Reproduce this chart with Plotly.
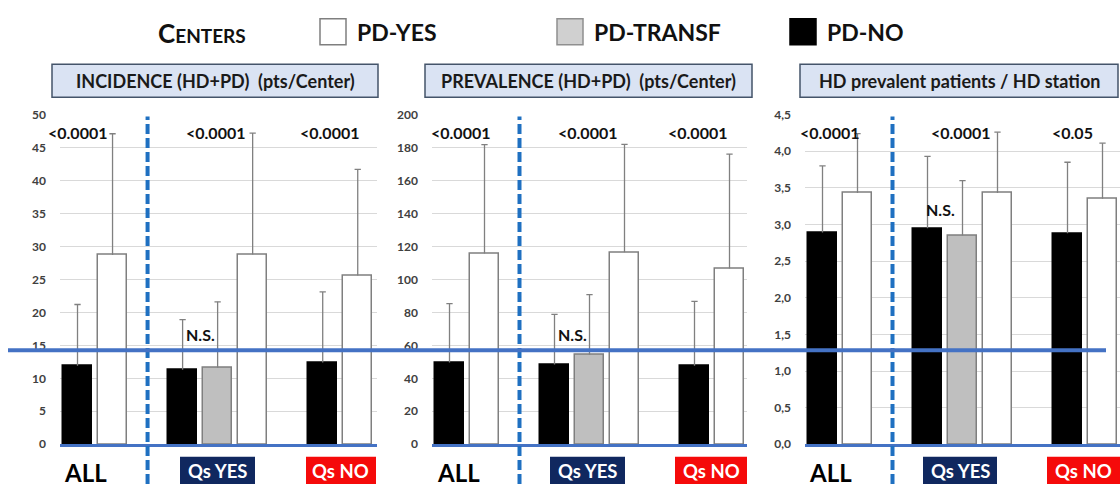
import plotly.graph_objects as go

W, H = 1120, 491

# ---------------- data ----------------
groups = ["ALL", "Qs YES", "Qs NO"]
series_names = ["PD-NO", "PD-TRANSF", "PD-YES"]

# Panel 1: incidence (HD+PD) pts/center
inc_no = [11.9, 11.3, 12.4]
inc_no_sd = [9.3, 7.6, 10.7]
inc_tr = [None, 11.6, None]
inc_tr_sd = [None, 10.0, None]
inc_yes = [28.7, 28.8, 25.6]
inc_yes_sd = [18.4, 18.4, 16.1]

# Panel 2: prevalence (HD+PD) pts/center
prev_no = [49.6, 48.4, 47.6]
prev_no_sd = [35.7, 30.4, 39.1]
prev_tr = [None, 54.3, None]
prev_tr_sd = [None, 36.5, None]
prev_yes = [115.7, 116.5, 106.7]
prev_yes_sd = [66.1, 65.5, 69.4]

# Panel 3: HD prevalent patients / HD station
hd_no = [2.89, 2.95, 2.88]
hd_no_sd = [0.91, 0.98, 0.97]
hd_tr = [None, 2.85, None]
hd_tr_sd = [None, 0.75, None]
hd_yes = [3.43, 3.43, 3.35]
hd_yes_sd = [0.81, 0.83, 0.76]

p_inc = ["<0.0001", "<0.0001", "<0.0001"]
p_prev = ["<0.0001", "<0.0001", "<0.0001"]
p_hd = ["<0.0001", "<0.0001", "<0.05"]
ns_label = "N.S."

panel_titles = ["INCIDENCE (HD+PD)  (pts/Center)",
                "PREVALENCE (HD+PD)  (pts/Center)",
                "HD prevalent patients / HD station"]
y_ticks = [[0, 5, 10, 15, 20, 25, 30, 35, 40, 45, 50],
           [0, 20, 40, 60, 80, 100, 120, 140, 160, 180, 200],
           [0, 0.5, 1, 1.5, 2, 2.5, 3, 3.5, 4, 4.5]]

panels = [
    dict(no=inc_no, no_sd=inc_no_sd, tr=inc_tr, tr_sd=inc_tr_sd, yes=inc_yes, yes_sd=inc_yes_sd, p=p_inc),
    dict(no=prev_no, no_sd=prev_no_sd, tr=prev_tr, tr_sd=prev_tr_sd, yes=prev_yes, yes_sd=prev_yes_sd, p=p_prev),
    dict(no=hd_no, no_sd=hd_no_sd, tr=hd_tr, tr_sd=hd_tr_sd, yes=hd_yes, yes_sd=hd_yes_sd, p=p_hd),
]

# ---------------- layout helpers ----------------
def px_x(p):
    return p / W

def px_y(p):
    return (H - p) / H

group_start = [0, 3, 7]
x_domains = [(60, 377), (432, 747), (805, 1120)]
x_ranges = [(-0.5, 8.55), (-0.5, 8.5), (-0.5, 8.5)]
y_dom = [px_y(450), px_y(110)]
BAR_W = 0.83
CAP = 0.09

styles = {
    "PD-NO": dict(fill="#000000", line="#000000"),
    "PD-TRANSF": dict(fill="#bfbfbf", line="#7f7f7f"),
    "PD-YES": dict(fill="#ffffff", line="#7f7f7f"),
}

fig = go.Figure()
FONT = "Lato"

for pi, pd_ in enumerate(panels):
    ax = "" if pi == 0 else str(pi + 1)
    series_vals = {"PD-NO": (pd_["no"], pd_["no_sd"]),
                   "PD-TRANSF": (pd_["tr"], pd_["tr_sd"]),
                   "PD-YES": (pd_["yes"], pd_["yes_sd"])}
    slots = {s: [None] * 3 for s in series_names}
    for gi in range(3):
        k = 0
        for s in series_names:
            if series_vals[s][0][gi] is not None:
                slots[s][gi] = group_start[gi] + k
                k += 1
    for s in series_names:
        vals, sds = series_vals[s]
        idx = [g for g in range(3) if vals[g] is not None]
        xs = [slots[s][g] for g in idx]
        ys = [vals[g] for g in idx]
        fig.add_trace(go.Bar(
            x=xs, y=ys, name=s, width=BAR_W,
            marker=dict(color=styles[s]["fill"], line=dict(color=styles[s]["line"], width=1.5)),
            xaxis="x" + ax, yaxis="y" + ax, showlegend=False,
        ))
    # upward error whiskers (mean -> mean + SD, with small cap)
    ex, ey = [], []
    for s in series_names:
        vals, sds = series_vals[s]
        for g in range(3):
            if vals[g] is None:
                continue
            xc = slots[s][g]
            top = vals[g] + sds[g]
            ex += [xc, xc, None, xc - CAP, xc + CAP, None]
            ey += [vals[g], top, None, top, top, None]
    fig.add_trace(go.Scatter(x=ex, y=ey, mode="lines", line=dict(color="#808080", width=1.3),
                             xaxis="x" + ax, yaxis="y" + ax, showlegend=False, hoverinfo="skip"))

    d0, d1 = x_domains[pi]
    fig.layout["xaxis" + ax] = dict(
        domain=[px_x(d0), px_x(d1)], range=list(x_ranges[pi]), anchor="y" + ax,
        showticklabels=False, showgrid=False, zeroline=False,
        showline=True, linecolor="#4472c4", linewidth=2.5, fixedrange=True,
    )
    yt = y_ticks[pi]
    yaxis = dict(
        domain=y_dom, range=[0, yt[-1]], anchor="x" + ax, tickvals=yt,
        showgrid=True, gridcolor="#d9d9d9", gridwidth=1, zeroline=False,
        showline=False, ticks="", ticklabelstandoff=13,
        tickfont=dict(family=FONT, size=12, color="#404040", weight="bold"),
        fixedrange=True,
    )
    if pi == 2:
        yaxis["tickformat"] = ".1f"
    fig.layout["yaxis" + ax] = yaxis

# ---------------- shapes & annotations ----------------
shapes = []
ann = []

for pi in range(3):
    ax = "x" if pi == 0 else "x" + str(pi + 1)
    shapes.append(dict(type="line", xref=ax, yref="paper", x0=2, x1=2,
                       y0=px_y(491), y1=px_y(112),
                       line=dict(color="#1f70c1", width=4, dash="10px,4px"), layer="above"))

shapes.append(dict(type="line", xref="paper", yref="paper", x0=px_x(8), x1=px_x(1106),
                   y0=px_y(353), y1=px_y(353), line=dict(color="#4472c4", width=4), layer="above"))

title_boxes = [(52, 378), (425, 752), (800, 1118)]
for (bx0, bx1), t in zip(title_boxes, panel_titles):
    shapes.append(dict(type="rect", xref="paper", yref="paper", x0=px_x(bx0), x1=px_x(bx1),
                       y0=px_y(92), y1=px_y(58), fillcolor="#dae3f3",
                       line=dict(color="#44546a", width=1.5)))
    ann.append(dict(xref="paper", yref="paper", x=px_x((bx0 + bx1) / 2), y=px_y(75),
                    text=t, showarrow=False, xanchor="center", yanchor="middle",
                    font=dict(family=FONT, size=18, color="#1a1a1a", weight="bold")))

p_x = [[0.0, 3.93, 7.2], [0.31, 3.94, 7.09], [0.21, 3.93, 7.13]]
ns_pos = [(3.5, 337), (3.51, 337), (3.36, 208)]
for pi, pd_ in enumerate(panels):
    ax = "x" if pi == 0 else "x" + str(pi + 1)
    for gi in range(3):
        ann.append(dict(xref=ax, yref="paper", x=p_x[pi][gi], y=px_y(128), text=pd_["p"][gi],
                        showarrow=False, xanchor="center", yanchor="middle",
                        font=dict(family=FONT, size=16, color="#111111", weight="bold")))
    ann.append(dict(xref=ax, yref="paper", x=ns_pos[pi][0], y=px_y(ns_pos[pi][1]), text=ns_label,
                    showarrow=False, xanchor="center", yanchor="middle",
                    font=dict(family=FONT, size=16, color="#111111", weight="bold")))

all_x = [62, 435, 807]
navy_boxes = [(180, 255), (550, 625), (923, 997)]
red_boxes = [(306, 376), (675, 747), (1047, 1120)]
for pi in range(3):
    ann.append(dict(xref="paper", yref="paper", x=px_x(all_x[pi]), y=px_y(479), text=groups[0],
                    showarrow=False, xanchor="left", yanchor="middle",
                    font=dict(family=FONT, size=24, color="#000000", weight="bold")))
    nx0, nx1 = navy_boxes[pi]
    shapes.append(dict(type="rect", xref="paper", yref="paper", x0=px_x(nx0), x1=px_x(nx1),
                       y0=px_y(491), y1=px_y(463), fillcolor="#10285f", line=dict(width=0)))
    ann.append(dict(xref="paper", yref="paper", x=px_x((nx0 + nx1) / 2), y=px_y(478), text=groups[1],
                    showarrow=False, xanchor="center", yanchor="middle",
                    font=dict(family=FONT, size=18.5, color="#ffffff", weight="bold")))
    rx0, rx1 = red_boxes[pi]
    shapes.append(dict(type="rect", xref="paper", yref="paper", x0=px_x(rx0), x1=px_x(rx1),
                       y0=px_y(491), y1=px_y(463), fillcolor="#f50a0a", line=dict(width=0)))
    ann.append(dict(xref="paper", yref="paper", x=px_x((rx0 + rx1) / 2), y=px_y(478), text=groups[2],
                    showarrow=False, xanchor="center", yanchor="middle",
                    font=dict(family=FONT, size=18.5, color="#ffffff", weight="bold")))

ann.append(dict(xref="paper", yref="paper", x=px_x(156), y=px_y(26),
                text="C<span style='font-size:19px'>ENTERS</span>",
                showarrow=False, xanchor="left", yanchor="middle",
                font=dict(family=FONT, size=26, color="#111111", weight="bold")))
legend_items = [("PD-YES", 320, "#ffffff", "#7f7f7f"),
                ("PD-TRANSF", 557, "#d0d0d0", "#8f8f8f"),
                ("PD-NO", 790, "#000000", "#000000")]
for name, lx, fc, lc in legend_items:
    shapes.append(dict(type="rect", xref="paper", yref="paper", x0=px_x(lx), x1=px_x(lx + 26),
                       y0=px_y(38), y1=px_y(11), fillcolor=fc, line=dict(color=lc, width=1.5)))
    ann.append(dict(xref="paper", yref="paper", x=px_x(lx + 35), y=px_y(25), text=name,
                    showarrow=False, xanchor="left", yanchor="middle",
                    font=dict(family=FONT, size=23, color="#111111", weight="bold")))

fig.update_layout(
    width=W, height=H, autosize=False,
    margin=dict(l=0, r=0, t=0, b=0),
    paper_bgcolor="#ffffff", plot_bgcolor="#ffffff",
    barmode="overlay", bargap=0,
    separators=", ",
    shapes=shapes, annotations=ann, showlegend=False,
)

fig.write_html("out.html", config={"displayModeBar": False},
               post_script="document.body.style.margin='0';document.body.style.overflow='hidden';")
